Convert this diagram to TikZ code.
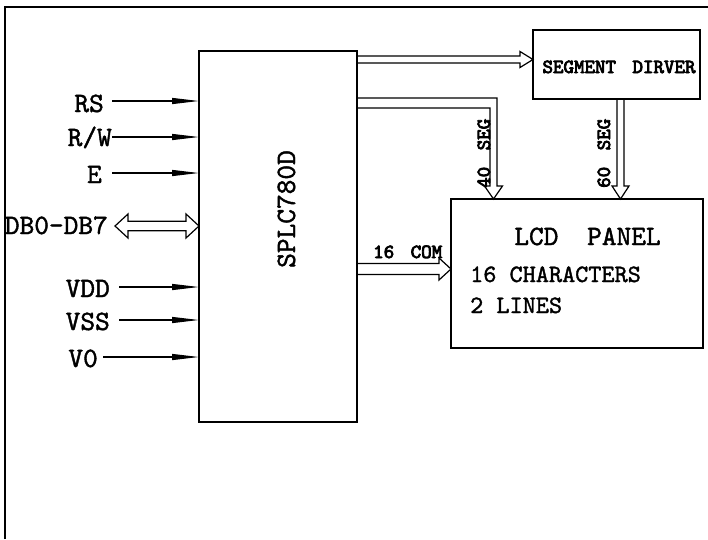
\documentclass[tikz,border=0pt]{standalone}
\usepackage{fontspec}
\newfontfamily\monoreg{lmmono10-regular.otf}[FakeBold=1.5]
\newfontfamily\monobold{lmmono10-regular.otf}[FakeBold=4]
\usetikzlibrary{arrows.meta,calc}
\begin{document}
\begin{tikzpicture}[x=1pt,y=-1pt,
  box/.style={draw,line width=1.6pt,inner sep=0,outer sep=0},
  lab/.style={font=\monoreg\fontsize{28}{30}\selectfont,inner sep=0},
  labs/.style={font=\monoreg\fontsize{25}{27}\selectfont,inner sep=0},
  blab/.style={font=\monobold\fontsize{20}{22}\selectfont,inner sep=0},
  inarr/.style={line width=1.2pt,-{Triangle[length=27pt,width=6pt]}},
  hol/.style={line width=1.2pt,line join=miter}]
\useasboundingbox (0,0) rectangle (708,539);
% frame
\draw[line width=2pt] (5,539) -- (5,7) -- (708,7);
% boxes
\node[box,minimum width=158pt,minimum height=371pt] (main) at (278,236.5) {};
\node[box,minimum width=167pt,minimum height=69pt] (segdrv) at (616.5,64.5) {};
\node[box,minimum width=252pt,minimum height=149pt] (lcd) at (577,273.5) {};
% texts in boxes
\node[lab,rotate=90,anchor=base west] (chip) at (295,268) {SPLC780D};
\node[blab,anchor=base] (segtxt) at (619,73) {SEGMENT\hspace{0.3em} DIRVER};
\node[lab,anchor=base] (lcdtxt) at (587.5,245) {LCD\hspace{0.5em} PANEL};
\node[labs,anchor=base west] (chars) at (470,282) {16 CHARACTERS};
\node[labs,anchor=base west] (lines) at (470,313) {2 LINES};
% left labels
\node[lab,anchor=base east] (rs) at (104,112) {RS};
\node[lab,anchor=base east] (rw) at (112,146) {R/W};
\node[lab,anchor=base east] (e) at (102,183) {E};
\node[lab,anchor=base east] (db) at (108,234) {DB0-DB7};
\node[lab,anchor=base east] (vdd) at (110,297) {VDD};
\node[lab,anchor=base east] (vss) at (110,330) {VSS};
\node[lab,anchor=base east] (vo) at (98,367) {V0};
% input arrows
\coordinate (rsS) at (112,101);
\coordinate (rwS) at (112,137);
\coordinate (eS) at (112,173);
\coordinate (vddS) at (119,287);
\coordinate (vssS) at (119,320);
\coordinate (voS) at (103,357);
\draw[inarr] (rsS) -- (rsS -| main.west);
\draw[inarr] (rwS) -- (rwS -| main.west);
\draw[inarr] (eS) -- (eS -| main.west);
\draw[inarr] (vddS) -- (vddS -| main.west);
\draw[inarr] (vssS) -- (vssS -| main.west);
\draw[inarr] (voS) -- (voS -| main.west);
% DB bidirectional hollow arrow
\coordinate (e1) at (115,226);
\coordinate (e2) at (e1 -| main.west);
\draw[hol] (e1) -- ($(e1)+(13,-12)$) -- ++(0,7.3) -- ($(e2)+(-13,-4.7)$) -- ++(0,-7.3) -- (e2)
  -- ($(e2)+(-13,12)$) -- ++(0,-7.3) -- ($(e1)+(13,4.7)$) -- ++(0,7.3) -- cycle;
% top hollow arrow to segment driver
\coordinate (a1) at (main.east |- 0,59.5);
\coordinate (a2) at (segdrv.west |- 0,59.5);
\draw[hol] ($(a1)+(0,-3.5)$) -- ($(a2)+(-13,-3.5)$) -- ++(0,-4.5) -- (a2)
  -- ($(a2)+(-13,8)$) -- ++(0,-4.5) -- ($(a1)+(0,3.5)$);
% 40 SEG arrow
\coordinate (b1) at (main.east |- 0,103);
\coordinate (b2) at (493.5,0 |- lcd.north);
\draw[hol] ($(b1)+(0,-5)$) -| ($(b2)+(3.5,-13)$) -- ++(5.5,0) -- (b2)
  -- ($(b2)+(-9,-13)$) -- ++(5.5,0) |- ($(b1)+(0,5)$);
\node[blab,rotate=90,anchor=base west] (seg40) at (490,188) {40\hspace{0.3em} SEG};
% 60 SEG arrow
\coordinate (c1) at (620.5,0 |- segdrv.south);
\coordinate (c2) at (620.5,0 |- lcd.north);
\draw[hol] ($(c1)+(-3.5,0)$) -- ($(c2)+(-3.5,-13)$) -- ++(-5,0) -- (c2)
  -- ($(c2)+(8.5,-13)$) -- ++(-5,0) -- ($(c1)+(3.5,0)$);
\node[blab,rotate=90,anchor=base west] (seg60) at (610,188) {60\hspace{0.3em} SEG};
% 16 COM arrow
\coordinate (d1) at (main.east |- 0,269);
\coordinate (d2) at (lcd.west |- 0,269);
\draw[hol] ($(d1)+(0,-5.5)$) -- ($(d2)+(-12,-5.5)$) -- ++(0,-5.5) -- (d2)
  -- ($(d2)+(-12,11)$) -- ++(0,-5.5) -- ($(d1)+(0,5.5)$);
\node[blab,anchor=base west] (com) at (373,258) {16\hspace{0.3em} COM};
\end{tikzpicture}
\end{document}
